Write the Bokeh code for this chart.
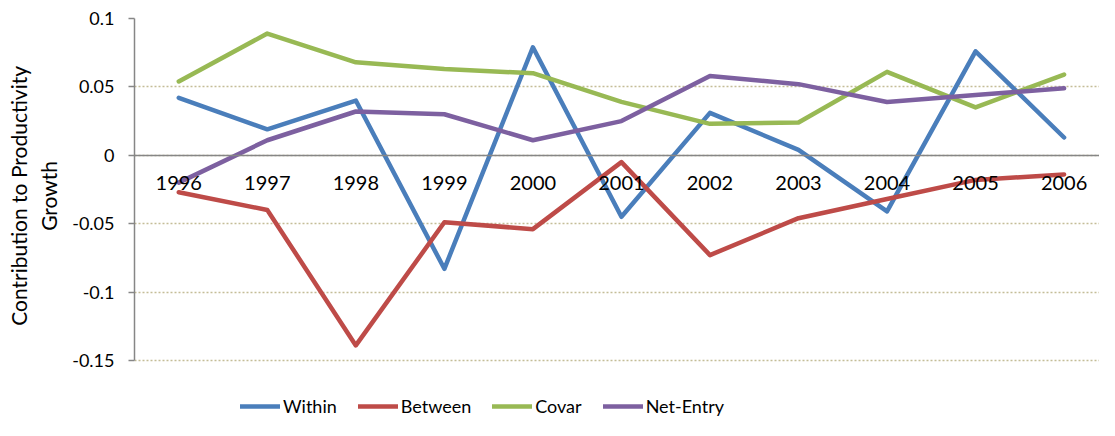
from bokeh.plotting import figure
from bokeh.models import (Range1d, FixedTicker, NumeralTickFormatter, Legend, LegendItem)
from bokeh.embed import file_html
from bokeh.resources import INLINE

years = [1996, 1997, 1998, 1999, 2000, 2001, 2002, 2003, 2004, 2005, 2006]
within = [0.042, 0.019, 0.040, -0.083, 0.079, -0.045, 0.031, 0.004, -0.041, 0.076, 0.013]
between = [-0.027, -0.040, -0.139, -0.049, -0.054, -0.005, -0.073, -0.046, -0.032, -0.018, -0.014]
covar = [0.054, 0.089, 0.068, 0.063, 0.060, 0.039, 0.023, 0.024, 0.061, 0.035, 0.059]
net_entry = [-0.020, 0.011, 0.032, 0.030, 0.011, 0.025, 0.058, 0.052, 0.039, 0.044, 0.049]
y_ticks = [-0.15, -0.1, -0.05, 0, 0.05, 0.1]

series = [("Within", within, "#4A7EBB"),
          ("Between", between, "#BE4B48"),
          ("Covar", covar, "#98B954"),
          ("Net-Entry", net_entry, "#7D60A0")]

FONT = "Lato"
EM = "\u2003" * 3  # em spaces to lift the centred axis title onto the value scale

# frame extends down to the bottom so the legend sits inside it
p = figure(width=1099, height=420, output_backend="svg", toolbar_location=None,
           x_range=Range1d(1995.5, 2006.4), y_range=Range1d(-0.1939, 0.1),
           min_border_left=134, min_border_right=0, min_border_top=18,
           min_border_bottom=0)
p.outline_line_color = None
p.background_fill_color = "white"
p.border_fill_color = "white"

# x axis crossing at zero
xa = p.xaxis[0]
xa.fixed_location = 0
xa.ticker = FixedTicker(ticks=years)
xa.axis_line_color = "#868686"
xa.axis_line_width = 1.5
xa.major_tick_line_color = None
xa.minor_tick_line_color = None
xa.major_label_standoff = 15
xa.major_label_text_font = FONT
xa.major_label_text_font_size = "20px"
xa.major_label_text_color = "black"

ya = p.yaxis[0]
ya.bounds = (-0.15, 0.1)
ya.ticker = FixedTicker(ticks=y_ticks)
ya.formatter = NumeralTickFormatter(format="0.[00]")
ya.axis_line_color = "#868686"
ya.axis_line_width = 1.5
ya.major_tick_line_color = "#868686"
ya.major_tick_line_width = 1.5
ya.major_tick_out = 6
ya.major_tick_in = 0
ya.minor_tick_line_color = None
ya.major_label_standoff = 14
ya.major_label_text_font = FONT
ya.major_label_text_font_size = "18px"
ya.major_label_text_color = "black"
ya.axis_label = EM + "Contribution to Productivity\n" + EM + "Growth"
ya.axis_label_text_font = FONT
ya.axis_label_text_font_size = "21px"
ya.axis_label_text_font_style = "normal"
ya.axis_label_text_color = "black"
ya.axis_label_text_line_height = 1.2
ya.axis_label_standoff = 8

p.xgrid.grid_line_color = None
p.ygrid.ticker = FixedTicker(ticks=y_ticks)
p.ygrid.grid_line_color = "#C4BD97"
p.ygrid.grid_line_width = 1.5
p.ygrid.grid_line_dash = "2 2"

items = []
for name, vals, color in series:
    r = p.line(years, vals, line_color=color, line_width=4.5, line_cap="round",
               line_join="round")
    items.append(LegendItem(label=name, renderers=[r]))

legend = Legend(items=items, orientation="horizontal", location=(106, 3),
                border_line_color=None, background_fill_alpha=0,
                glyph_width=40, glyph_height=20, label_standoff=3, spacing=21,
                padding=0, margin=0,
                label_text_font=FONT, label_text_font_size="18px",
                label_text_color="black")
p.add_layout(legend)

open("out.html", "w").write(file_html(p, INLINE))
